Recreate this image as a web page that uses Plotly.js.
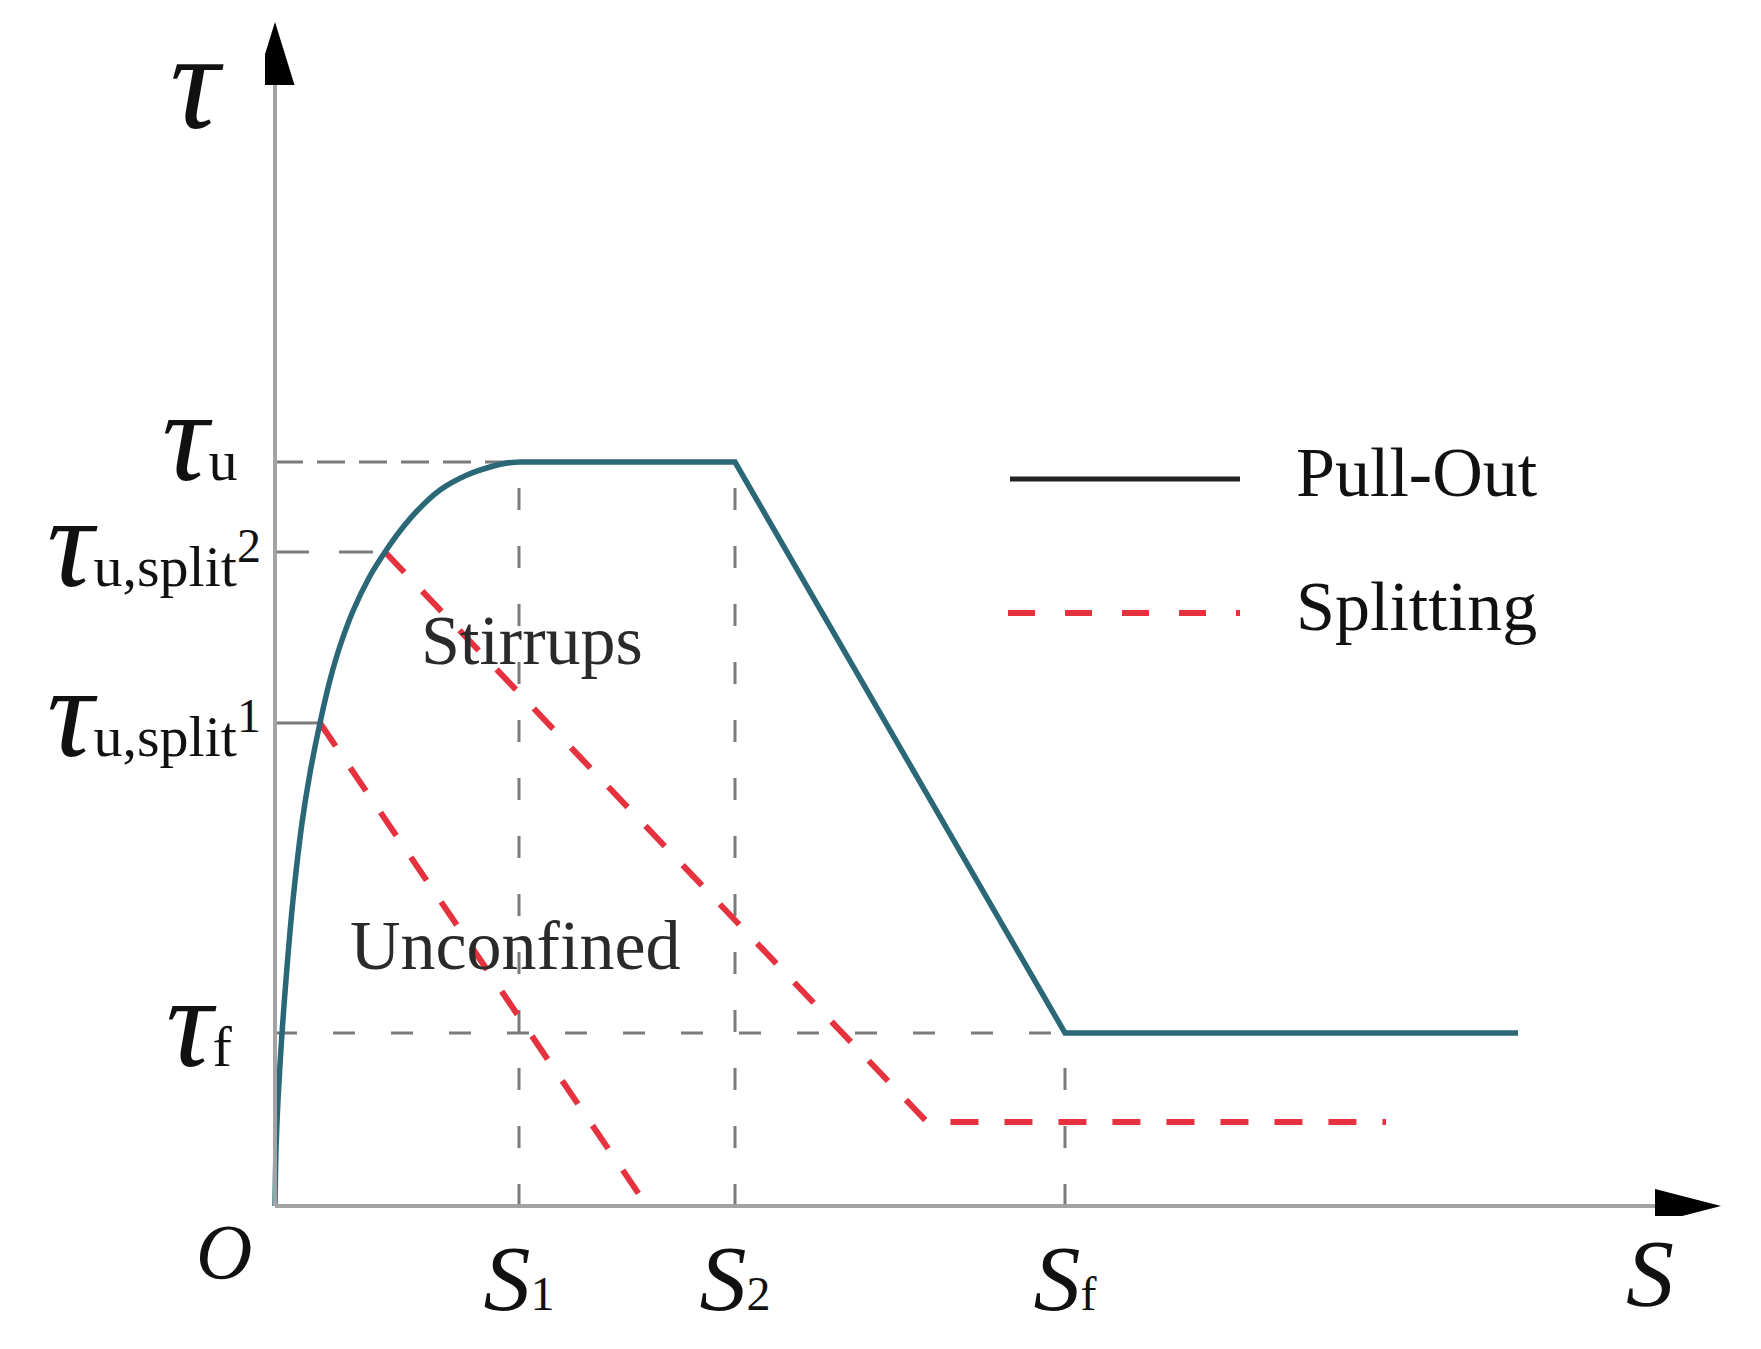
<!DOCTYPE html>
<html>
<head>
<meta charset="utf-8">
<script src="https://cdn.plot.ly/plotly-3.0.1.min.js"></script>
<style>html,body{margin:0;padding:0;background:#fff;}#chart{width:1761px;height:1349px;}</style>
</head>
<body>
<div id="chart"></div>
<script>
// ---- values (arbitrary schematic units) ----
// Pull-out bond–slip curve: rising branch (O -> S1)
const pullRiseS   = [0, 0.01, 0.03, 0.07, 0.12, 0.18, 0.27, 0.35, 0.45, 0.55, 0.65, 0.78, 0.95, 1.10, 1.25, 1.42, 1.65, 1.92, 2.15, 2.32, 2.44];
const pullRiseTau = [0, 0.56, 1.06, 1.73, 2.39, 3.06, 3.83, 4.33, 4.83, 5.26, 5.60, 5.95, 6.30, 6.54, 6.75, 6.95, 7.16, 7.31, 7.39, 7.43, 7.44];
// Pull-out plateau, softening and residual branch
const pullRestS   = [2.44, 4.60, 7.90, 12.43];
const pullRestTau = [7.44, 7.44, 1.73, 1.73];
// Splitting curves
const unconfinedS   = [0.45, 3.72];
const unconfinedTau = [4.83, 0];
const stirrupsS     = [1.10, 6.52, 11.11];
const stirrupsTau   = [6.54, 0.84, 0.84];
// Characteristic levels / slips and their labels
const tauVals   = [7.44, 6.54, 4.83, 1.73];
const tauEndS   = [2.44, 1.10, 0.45, 7.90];   // where each dashed guide meets the curve
const tauLabels = ['τ|u', 'τ|u,split|2', 'τ|u,split|1', 'τ|f'];
const slipVals   = [2.44, 4.60, 7.90];
const slipTopTau = [7.44, 7.44, 1.73];
const slipLabels = ['S|1', 'S|2', 'S|f'];
const legendNames = ['Pull-Out', 'Splitting'];
const regionNames = ['Stirrups', 'Unconfined'];
const axisNames   = ['τ', 'S', 'O'];

// ---- styling ----
const FONT = 'Liberation Serif, Times New Roman, serif';
const TEAL = '#2a6878', RED = '#e5323e', GUIDE = '#7a7a7a';
const tauLabelDX = [-25, -2, -2, -30];   // pixel nudges of the τ labels
const tauLabelDY = [26, 10, 11, 11];

function tauText(s) {
  const p = s.split('|');
  let t = '<span style="font-size:130px"><i>' + p[0] + '</i></span>' + p[1];
  if (p[2]) t += '<sup><span style="font-size:48px">' + p[2] + '</span></sup>';
  return t;
}
function slipText(s) {
  const p = s.split('|');
  return '<span style="font-size:94px"><i>' + p[0] + '</i></span>' + p[1];
}

const traces = [];
const guideDash = ['28px,14px', '34px,30px', 'solid', '22px,36px'];
tauVals.forEach((v, i) => {
  traces.push({x: [0, tauEndS[i]], y: [v, v], mode: 'lines', hoverinfo: 'skip', showlegend: false,
    line: {color: GUIDE, width: 3, dash: guideDash[i]}});
});
slipVals.forEach((v, i) => {
  traces.push({x: [v, v], y: [0, slipTopTau[i]], mode: 'lines', hoverinfo: 'skip', showlegend: false,
    line: {color: GUIDE, width: 3, dash: '22px,36px'}});
});
traces.push({x: unconfinedS, y: unconfinedTau, mode: 'lines', showlegend: false,
  line: {color: RED, width: 6, dash: '28px,26px'}});
traces.push({x: stirrupsS, y: stirrupsTau, mode: 'lines', showlegend: false,
  line: {color: RED, width: 6, dash: '28px,26px'}});
traces.push({x: pullRiseS, y: pullRiseTau, mode: 'lines', showlegend: false,
  line: {color: TEAL, width: 5.5, shape: 'spline', smoothing: 0.8}});
traces.push({x: pullRestS, y: pullRestTau, mode: 'lines', showlegend: false,
  line: {color: TEAL, width: 5.5}});

const shapes = [
  // axes
  {type: 'line', xref: 'x', yref: 'y', x0: 0, y0: 0, x1: 13.85, y1: 0, line: {color: '#a3a3a3', width: 4}},
  {type: 'line', xref: 'x', yref: 'y', x0: 0, y0: 0, x1: 0, y1: 11.25, line: {color: '#a3a3a3', width: 4}},
  // arrow heads
  {type: 'path', xref: 'x', yref: 'y', path: 'M 13.80 0.17 L 14.46 0 L 13.80 -0.17 Z', fillcolor: '#000', line: {width: 0}},
  {type: 'path', xref: 'x', yref: 'y', path: 'M -0.195 11.21 L 0 11.84 L 0.195 11.21 Z', fillcolor: '#000', line: {width: 0}},
  // legend keys
  {type: 'line', xref: 'x', yref: 'y', x0: 7.35, y0: 7.27, x1: 9.65, y1: 7.27, line: {color: '#222', width: 5}},
  {type: 'line', xref: 'x', yref: 'y', x0: 7.33, y0: 5.93, x1: 9.65, y1: 5.93, line: {color: RED, width: 6, dash: '27px,30px'}}
];

const annotations = [
  // axis names (outside the axis ranges -> paper coordinates)
  {xref: 'paper', yref: 'paper', x: -0.047, y: 0.95, text: '<i>' + axisNames[0] + '</i>', font: {family: FONT, size: 138, color: '#111'}},
  {xref: 'paper', yref: 'paper', x: 0.951, y: -0.048, text: '<i>' + axisNames[1] + '</i>', font: {family: FONT, size: 96, color: '#111'}},
  {xref: 'paper', yref: 'paper', x: -0.028, y: -0.030, text: '<i>' + axisNames[2] + '</i>', font: {family: FONT, size: 78, color: '#111'}},
  {x: 2.57, y: 5.66, text: regionNames[0], font: {family: FONT, size: 70, color: '#2a2a2a'}},
  {x: 2.40, y: 2.61, text: regionNames[1], font: {family: FONT, size: 70, color: '#2a2a2a'}},
  {x: 10.19, y: 7.34, xanchor: 'left', text: legendNames[0], font: {family: FONT, size: 70, color: '#111'}},
  {x: 10.19, y: 6.00, xanchor: 'left', text: legendNames[1], font: {family: FONT, size: 70, color: '#111'}}
].concat(tauVals.map((v, i) => ({
  xref: 'paper', yref: 'y', x: 0, y: v, xanchor: 'right', xshift: tauLabelDX[i], yshift: tauLabelDY[i],
  text: tauText(tauLabels[i]), font: {family: FONT, size: 58, color: '#111'}
}))).map(a => Object.assign({xref: 'x', yref: 'y', showarrow: false, yanchor: 'middle', xanchor: 'center'}, a));

const layout = {
  width: 1761, height: 1349,
  margin: {l: 265, r: 40, t: 22, b: 133, pad: 0},
  paper_bgcolor: '#fff', plot_bgcolor: '#fff',
  showlegend: false,
  xaxis: {range: [-0.10, 14.46], showgrid: false, zeroline: false, showline: false, ticks: '',
    tickvals: slipVals, ticktext: slipLabels.map(slipText), ticklabelstandoff: 45,
    tickfont: {family: FONT, size: 48, color: '#111'}},
  yaxis: {range: [-0.10, 11.84], showgrid: false, zeroline: false, showline: false, ticks: '',
    tickvals: tauVals, showticklabels: false},
  shapes: shapes,
  annotations: annotations
};

Plotly.newPlot('chart', traces, layout, {staticPlot: true, displayModeBar: false});
</script>
</body>
</html>
